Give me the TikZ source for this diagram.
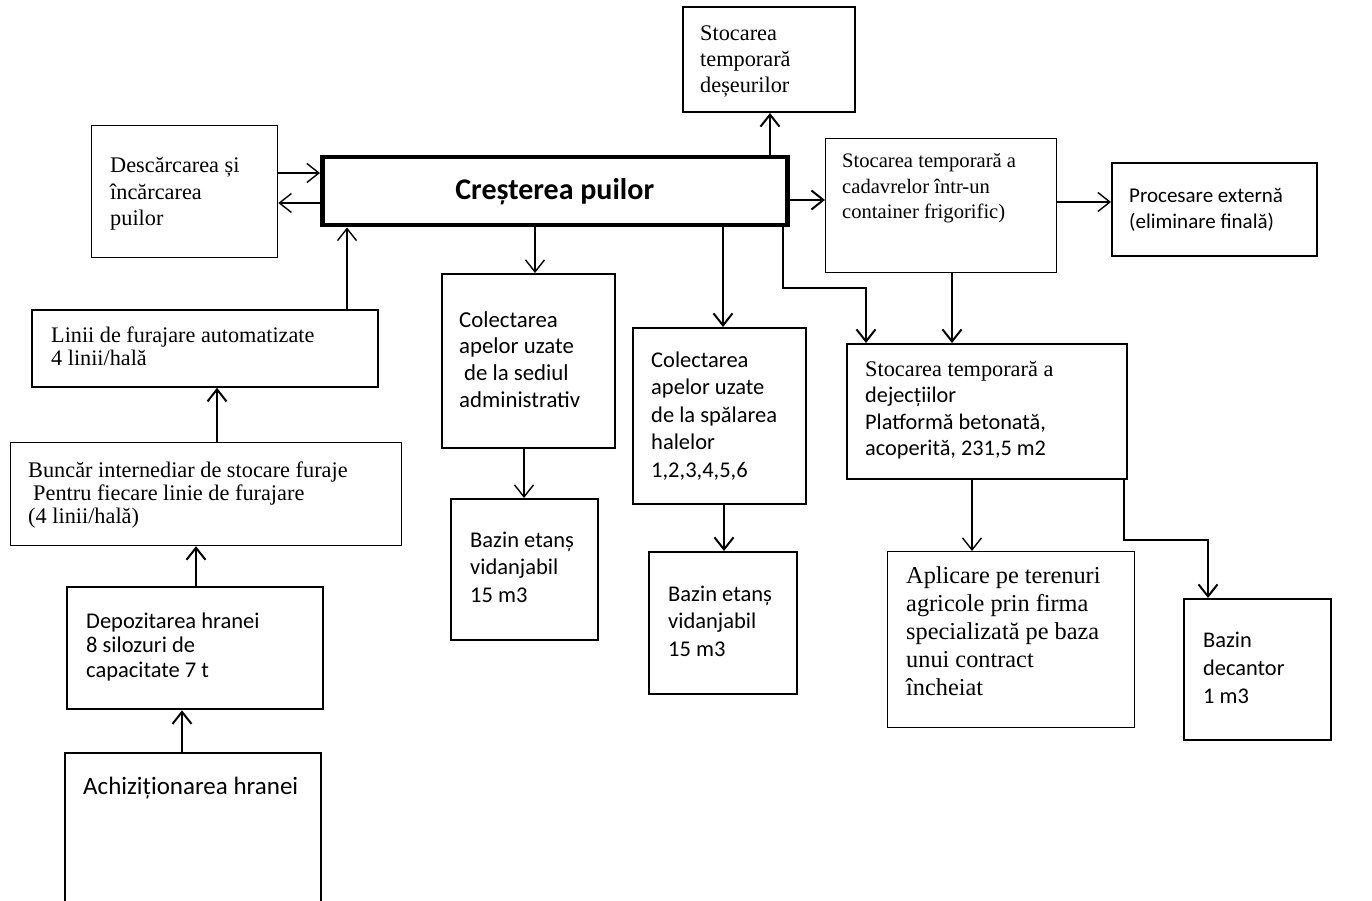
\documentclass[tikz,border=0pt]{standalone}
\usepackage{fontspec}
\setmainfont{Liberation Serif}
\newfontfamily\calfont{Carlito}
\usetikzlibrary{arrows.meta}
\newcommand\mlines[1]{\begin{tabular}[t]{@{}l@{}}#1\end{tabular}}
\newcommand\fsz[2]{\fontsize{#1}{#2}\selectfont}
\begin{document}
\begin{tikzpicture}[x=1pt,y=-1pt,
  box/.style={draw, line width=1.3pt, rectangle, inner sep=0pt, anchor=north west},
  boxb/.style={box, line width=2pt},
  tx/.style={inner sep=0pt, anchor=base west},
  arr/.style={line width=1.4pt, -{Straight Barb[length=12pt,width=19pt]}},
  arrb/.style={arr, line width=2pt}]
\useasboundingbox (0,0) rectangle (1372,901);
% boxes
\node[box, minimum width=186pt, minimum height=132pt] (desc) at (91,125) {};
\node[box, line width=4.5pt, minimum width=465pt, minimum height=68pt] (main) at (320,155) {};
\node[boxb, minimum width=172pt, minimum height=105pt] (des) at (682,6) {};
\node[box, minimum width=231pt, minimum height=134pt] (cad) at (825,138) {};
\node[box, line width=2.3pt, minimum width=205pt, minimum height=93pt] (proc) at (1111,162) {};
\node[box, line width=1.8pt, minimum width=346pt, minimum height=77pt] (lin) at (31,309) {};
\node[box, line width=1.2pt, minimum width=391pt, minimum height=103pt] (bun) at (10,442) {};
\node[box, line width=2.3pt, minimum width=256pt, minimum height=122pt] (dep) at (66,586) {};
\node[box, line width=2.3pt, minimum width=256pt, minimum height=170pt] (ach) at (64,752) {};
\node[boxb, minimum width=173pt, minimum height=174pt] (col1) at (441,273) {};
\node[boxb, minimum width=147pt, minimum height=141pt] (baz1) at (450,498) {};
\node[boxb, minimum width=173pt, minimum height=176pt] (col2) at (632,327) {};
\node[boxb, minimum width=148pt, minimum height=142pt] (baz2) at (648,551) {};
\node[box, line width=1.6pt, minimum width=280pt, minimum height=135pt] (dej) at (846,343) {};
\node[box, minimum width=247pt, minimum height=176pt] (apl) at (887,551) {};
\node[boxb, minimum width=147pt, minimum height=141pt] (dec) at (1183,598) {};
% texts
\node[tx, font=\fsz{22.3}{26.5}] (tdesc) at (110,173) {\mlines{Descărcarea și\\încărcarea\\puilor}};
\node[font=\calfont\bfseries\fsz{30}{34}] (tmain) at (main.center) {Creșterea puilor};
\node[tx, font=\fsz{22.3}{26}] (tdes) at (700,41) {\mlines{Stocarea\\temporară\\deșeurilor}};
\node[tx, font=\fsz{20.6}{25.5}] (tcad) at (842,168) {\mlines{Stocarea temporară a\\cadavrelor într-un\\container frigorific)}};
\node[tx, font=\calfont\fsz{21}{26}] (tproc) at (1129,203) {\mlines{Procesare externă\\(eliminare finală)}};
\node[tx, font=\fsz{22.2}{23}] (tlin) at (51,342) {\mlines{Linii de furajare automatizate\\4 linii/hală}};
\node[tx, font=\fsz{22.3}{23}] (tbun) at (28,477) {\mlines{Buncăr internediar de stocare furaje\\\hspace{5pt}Pentru fiecare linie de furajare\\(4 linii/hală)}};
\node[tx, font=\calfont\fsz{22.5}{24.5}] (tdep) at (86,628) {\mlines{Depozitarea hranei\\8 silozuri de\\capacitate 7 t}};
\node[tx, font=\calfont\fsz{25}{27}] (tach) at (83,794) {Achiziționarea hranei};
\node[tx, font=\calfont\fsz{22.8}{26.7}] (tcol1) at (459,327) {\mlines{Colectarea\\apelor uzate\\\hspace{5pt}de la sediul\\administrativ}};
\node[tx, font=\calfont\fsz{22.5}{27.5}] (tbaz1) at (470,547) {\mlines{Bazin etanș\\vidanjabil\\15 m3}};
\node[tx, font=\calfont\fsz{22.5}{27.5}] (tcol2) at (651,367) {\mlines{Colectarea\\apelor uzate\\de la spălarea\\halelor\\1,2,3,4,5,6}};
\node[tx, font=\calfont\fsz{22.5}{27.5}] (tbaz2) at (668,601) {\mlines{Bazin etanș\\vidanjabil\\15 m3}};
\node[tx, font=\fsz{22.3}{26.5}] (tdej) at (865,376) {\mlines{Stocarea temporară a\\\calfont dejecțiilor\\\calfont Platformă betonată,\\\calfont acoperită, 231,5 m2}};
\node[tx, font=\fsz{24.3}{28}] (tapl) at (906,583) {\mlines{Aplicare pe terenuri\\agricole prin firma\\specializată pe baza\\unui contract\\încheiat}};
\node[tx, font=\calfont\fsz{22.4}{28}] (tdec) at (1203,647) {\mlines{Bazin\\decantor\\1 m3}};
% connectors
\draw[arr] (desc.east |- 0,173) -- (main.west |- 0,173);
\draw[arr] (main.west |- 0,203) -- (desc.east |- 0,203);
\draw[arr] (lin.north -| 347,0) -- (main.south -| 347,0);
\draw[arrb] (main.north -| 770,0) -- (des.south -| 770,0);
\draw[arrb] (main.east |- 0,200) -- (cad.west |- 0,200);
\draw[arr] (cad.east |- 0,202) -- (proc.west |- 0,202);
\draw[arr] (main.south -| 535,0) -- (col1.north -| 535,0);
\draw[arrb] (main.south -| 723,0) -- (col2.north -| 723,0);
\draw[arrb] (main.south -| 783,0) -- ++(0,60) -| (dej.north -| 866,0);
\draw[arrb] (cad.south -| 952,0) -- (dej.north -| 952,0);
\draw[arr] (col1.south -| 524,0) -- (baz1.north -| 524,0);
\draw[arrb] (col2.south -| 724,0) -- (baz2.north -| 724,0);
\draw[arr] (dej.south -| 972,0) -- (apl.north -| 972,0);
\draw[arrb] (dej.south -| 1124,0) -- ++(0,60) -| (dec.north -| 1208,0);
\draw[arrb] (bun.north -| 217,0) -- (lin.south -| 217,0);
\draw[arrb] (dep.north -| 196,0) -- (bun.south -| 196,0);
\draw[arrb] (ach.north -| 182,0) -- (dep.south -| 182,0);
\end{tikzpicture}
\end{document}
